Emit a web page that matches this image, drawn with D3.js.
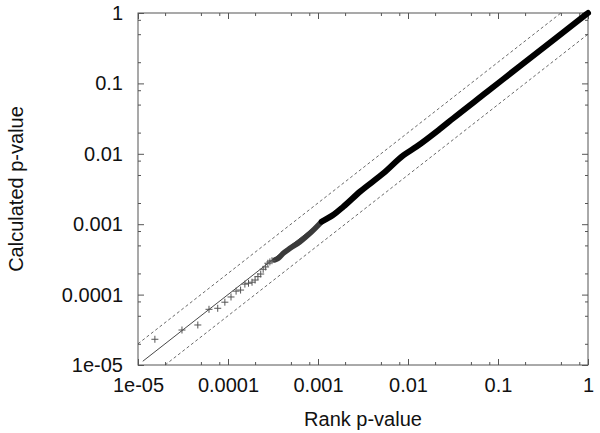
<!DOCTYPE html>
<html>
<head>
<meta charset="utf-8">
<script src="https://cdn.jsdelivr.net/npm/d3@7"></script>
<style>
  html, body { margin: 0; padding: 0; background: #fff; }
  svg { display: block; font-family: "Liberation Sans", Arial, sans-serif; }
</style>
</head>
<body>
<svg id="chart"></svg>
<script>
// decade ticks and their labels
const majorTicks = [1e-5, 1e-4, 1e-3, 1e-2, 1e-1, 1];
const tickLabels = ["1e-05", "0.0001", "0.001", "0.01", "0.1", "1"];
const minorSteps = [2, 5, 8];

// the lowest ranks, drawn one marker each
const rankP = [1.54e-5, 3.08e-5, 4.62e-5, 6.15e-5, 7.69e-5, 9.23e-5, 1.08e-4,
  1.23e-4, 1.38e-4, 1.54e-4, 1.69e-4, 1.85e-4, 2.0e-4, 2.15e-4, 2.31e-4,
  2.46e-4, 2.62e-4, 2.77e-4, 2.92e-4, 3.08e-4];
const calcP = [2.32e-5, 3.14e-5, 3.7e-5, 6.18e-5, 6.39e-5, 7.8e-5, 9.25e-5,
  1.12e-4, 1.16e-4, 1.41e-4, 1.45e-4, 1.5e-4, 1.61e-4, 1.8e-4, 1.96e-4,
  2.29e-4, 2.47e-4, 2.79e-4, 2.91e-4, 3.03e-4];

// the dense part, where markers merge into a band
const bandRank = [3.3e-4, 3.62e-4, 4.11e-4, 4.89e-4, 6.31e-4, 8.15e-4, 1.1e-3,
  1.47e-3, 1.91e-3, 2.93e-3, 5.32e-3, 8.87e-3, 1.25e-2, 2.27e-2, 3.19e-2,
  7.48e-2, 0.175, 0.45, 1];
const bandCalc = [3.1e-4, 3.28e-4, 3.86e-4, 4.55e-4, 5.64e-4, 7.43e-4, 1.09e-3,
  1.35e-3, 1.77e-3, 2.9e-3, 5.28e-3, 9.5e-3, 1.27e-2, 2.26e-2, 3.2e-2,
  7.5e-2, 0.176, 0.452, 1];

const width = 600;
const height = 433;
const margin = { top: 13, right: 12, bottom: 68, left: 138 };

const svg = d3.select("#chart").attr("width", width).attr("height", height);

const x = d3.scaleLog().domain([1e-5, 1]).range([margin.left, width - margin.right]);
const y = d3.scaleLog().domain([1e-5, 1]).range([height - margin.bottom, margin.top]);

const minorTicks = [];
majorTicks.slice(0, -1).forEach((d) => minorSteps.forEach((m) => minorTicks.push(d * m)));

const fmt = (d) => tickLabels[majorTicks.indexOf(d)];
const frameColor = "#555";

function styleAxis(g) {
  g.select(".domain").remove();
  g.selectAll("line").attr("stroke", frameColor);
  g.selectAll("text").attr("fill", "#111").style("font-size", "20px");
}

const plotBottom = y.range()[0], plotTop = y.range()[1];
const plotLeft = x.range()[0], plotRight = x.range()[1];

// frame
svg.append("rect")
  .attr("x", plotLeft).attr("y", plotTop)
  .attr("width", plotRight - plotLeft)
  .attr("height", plotBottom - plotTop)
  .attr("fill", "none").attr("stroke", frameColor).attr("stroke-width", 1);

// ticks on all four sides, pointing inwards
svg.append("g").attr("transform", `translate(0,${plotBottom})`)
  .call(d3.axisBottom(x).tickValues(majorTicks).tickFormat(fmt).tickSize(-6).tickPadding(13))
  .call(styleAxis);
svg.append("g").attr("transform", `translate(0,${plotBottom})`)
  .call(d3.axisBottom(x).tickValues(minorTicks).tickFormat("").tickSize(-3))
  .call(styleAxis);
svg.append("g").attr("transform", `translate(0,${plotTop})`)
  .call(d3.axisTop(x).tickValues(majorTicks).tickFormat("").tickSize(-6))
  .call(styleAxis);
svg.append("g").attr("transform", `translate(0,${plotTop})`)
  .call(d3.axisTop(x).tickValues(minorTicks).tickFormat("").tickSize(-3))
  .call(styleAxis);

svg.append("g").attr("transform", `translate(${plotLeft},0)`)
  .call(d3.axisLeft(y).tickValues(majorTicks).tickFormat(fmt).tickSize(-6).tickPadding(15))
  .call(styleAxis);
svg.append("g").attr("transform", `translate(${plotLeft},0)`)
  .call(d3.axisLeft(y).tickValues(minorTicks).tickFormat("").tickSize(-3))
  .call(styleAxis);
svg.append("g").attr("transform", `translate(${plotRight},0)`)
  .call(d3.axisRight(y).tickValues(majorTicks).tickFormat("").tickSize(-6))
  .call(styleAxis);
svg.append("g").attr("transform", `translate(${plotRight},0)`)
  .call(d3.axisRight(y).tickValues(minorTicks).tickFormat("").tickSize(-3))
  .call(styleAxis);

// reference lines: y = x and the factor-2 bounds
const line = d3.line().x((d) => x(d[0])).y((d) => y(d[1]));

svg.append("path")
  .attr("d", line([[1.13e-5, 1.13e-5], [1, 1]]))
  .attr("fill", "none").attr("stroke", "#333").attr("stroke-width", 0.9);

svg.append("path")
  .attr("d", line([[1e-5, 2e-5], [0.5, 1]]))
  .attr("fill", "none").attr("stroke", "#444").attr("stroke-width", 0.8)
  .attr("stroke-dasharray", "3,2.5");

svg.append("path")
  .attr("d", line([[2e-5, 1e-5], [1, 0.5]]))
  .attr("fill", "none").attr("stroke", "#444").attr("stroke-width", 0.8)
  .attr("stroke-dasharray", "3,2.5");

// dense band
const band = bandRank.map((d, i) => [d, bandCalc[i]]);
const split = bandRank.indexOf(1.1e-3);
const bandLine = d3.line().x((d) => x(d[0])).y((d) => y(d[1])).curve(d3.curveMonotoneX);

svg.append("path")
  .attr("d", bandLine(band.slice(0, split + 1)))
  .attr("fill", "none").attr("stroke", "#3a3a3a").attr("stroke-width", 5.5)
  .attr("stroke-linecap", "round");

svg.append("path")
  .attr("d", bandLine(band.slice(split)))
  .attr("fill", "none").attr("stroke", "#000").attr("stroke-width", 6)
  .attr("stroke-linecap", "round");

// single markers
const plus = (s) => `M${-s},0H${s}M0,${-s}V${s}`;

svg.append("g")
  .selectAll("path")
  .data(rankP.map((d, i) => [d, calcP[i]]))
  .enter()
  .append("path")
  .attr("transform", (d) => `translate(${x(d[0])},${y(d[1])})`)
  .attr("d", plus(3.5))
  .attr("fill", "none").attr("stroke", "#555").attr("stroke-width", 1);

// axis titles
svg.append("text")
  .attr("x", (plotLeft + plotRight) / 2).attr("y", 426)
  .attr("text-anchor", "middle")
  .style("font-size", "20px").attr("fill", "#111")
  .text("Rank p-value");

svg.append("text")
  .attr("transform", `translate(23,${(plotTop + plotBottom) / 2}) rotate(-90)`)
  .attr("text-anchor", "middle")
  .style("font-size", "20px").attr("fill", "#111")
  .text("Calculated p-value");
</script>
</body>
</html>
